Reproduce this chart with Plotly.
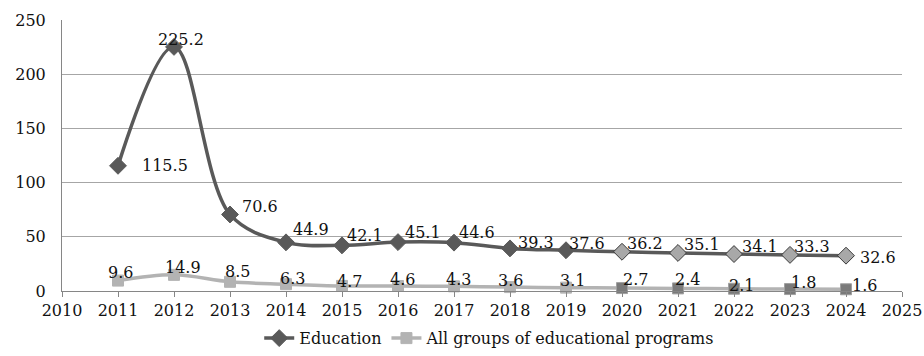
import plotly.graph_objects as go

years = list(range(2011, 2025))
education = [115.5, 225.2, 70.6, 44.9, 42.1, 45.1, 44.6, 39.3, 37.6, 36.2, 35.1, 34.1, 33.3, 32.6]
all_groups = [9.6, 14.9, 8.5, 6.3, 4.7, 4.6, 4.3, 3.6, 3.1, 2.7, 2.4, 2.1, 1.8, 1.6]
forecast_from = 2020

# label offsets (pixels) relative to the data point: styling only
edu_dx = [47, 7, 30, 25, 23, 25, 23, 26, 21, 23, 24, 26, 22, 32]
edu_dy = [0, 7, 8, 13, 10, 10, 10, 6, 7, 8, 8, 8, 8, -2]
all_dx = [2, 9, 7, 6, 7, 4, 4, 0, 6, 13, 9, 7, 13, 18]
all_dy = [8, 7, 10, 6, 4, 7, 7, 7, 7, 9, 9, 3, 7, 4]

font = "DejaVu Serif"
fs = 16
edu_col = "#595959"
all_col = "#b3b3b3"

edu_fill = [edu_col if y < forecast_from else "#a8a8a8" for y in years]
edu_line = [edu_col if y < forecast_from else "#3a3a3a" for y in years]
all_fill = [all_col if y < forecast_from else "#7a7a7a" for y in years]
all_line = [all_col if y < forecast_from else "#a0a0a0" for y in years]

fig = go.Figure()
fig.add_trace(go.Scatter(
    x=years, y=education, name="Education",
    mode="lines+markers",
    line=dict(color=edu_col, width=3.5, shape="spline", smoothing=1.0),
    marker=dict(symbol="diamond", size=13, color=edu_fill, line=dict(color=edu_line, width=1)),
    cliponaxis=False,
))
fig.add_trace(go.Scatter(
    x=years, y=all_groups, name="All groups of educational programs",
    mode="lines+markers",
    line=dict(color=all_col, width=3.5, shape="spline", smoothing=1.0),
    marker=dict(symbol="square", size=11, color=all_fill, line=dict(color=all_line, width=1)),
    cliponaxis=False,
))

for xs, ys, dxs, dys in [(years, education, edu_dx, edu_dy), (years, all_groups, all_dx, all_dy)]:
    for x, y, dx, dy in zip(xs, ys, dxs, dys):
        fig.add_annotation(x=x, y=y, text=f"{y:.1f}", showarrow=False,
                           xanchor="center", yanchor="middle", xshift=dx, yshift=dy,
                           font=dict(family=font, size=fs, color="#111111"))

fig.update_layout(
    width=924, height=356,
    margin=dict(l=62, r=22, t=20, b=65, autoexpand=False),
    paper_bgcolor="white", plot_bgcolor="white",
    font=dict(family=font, size=fs, color="#111111"),
    showlegend=True,
    legend=dict(orientation="h", x=0.53, xanchor="center", xref="container",
                y=0.05, yanchor="middle", yref="container",
                font=dict(family=font, size=fs), tracegroupgap=0),
)
fig.update_xaxes(range=[2010, 2025], dtick=1, tick0=2010, showgrid=False, automargin=False,
                 showline=True, linecolor="#868686", linewidth=1,
                 ticks="outside", ticklen=5, tickcolor="#868686", zeroline=False,
                 tickfont=dict(family=font, size=fs, color="#111111"))
fig.update_yaxes(range=[0, 250], dtick=50, showgrid=True, gridcolor="#a6a6a6", gridwidth=1,
                 showline=True, linecolor="#868686", linewidth=1, zeroline=False, automargin=False,
                 ticks="", ticklabelstandoff=12,
                 tickfont=dict(family=font, size=fs, color="#111111"))

fig.write_html("out.html")
